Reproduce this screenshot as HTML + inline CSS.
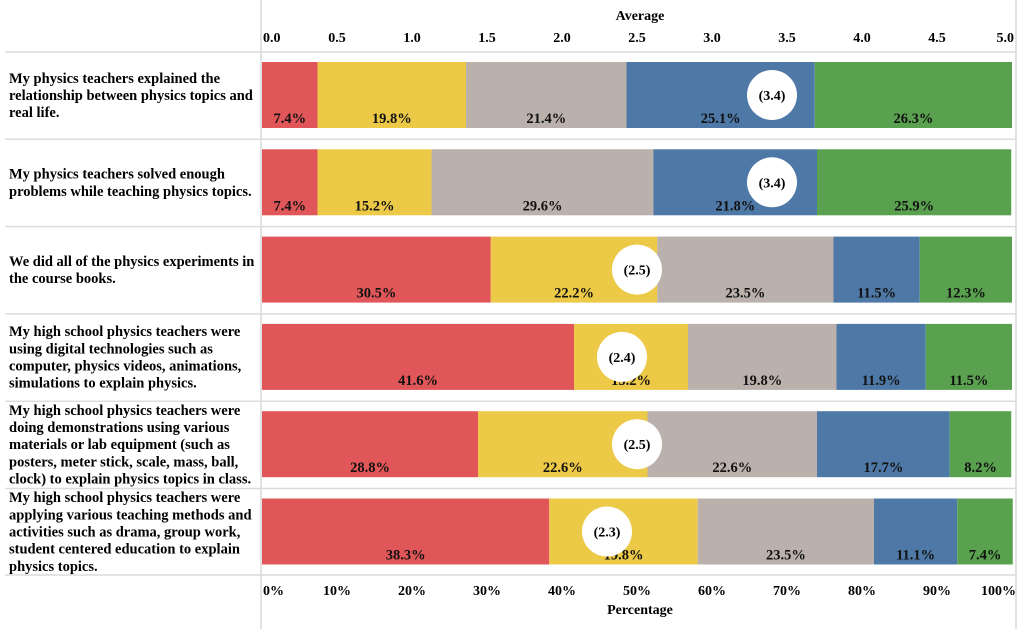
<!DOCTYPE html>
<html><head><meta charset="utf-8"><style>
body{margin:0;width:1024px;height:629px;background:#fff;overflow:hidden;font-family:"Liberation Serif",serif;}
svg text{font-family:"Liberation Serif",serif;font-weight:bold;}
</style></head><body>
<svg id="chart" width="1024" height="629" xmlns="http://www.w3.org/2000/svg"></svg>
<script>
const questions=[
["My physics teachers explained the","relationship between physics topics and","real life."],
["My physics teachers solved enough","problems while teaching physics topics."],
["We did all of the physics experiments in","the course books."],
["My high school physics teachers were","using digital technologies such as","computer, physics videos, animations,","simulations to explain physics."],
["My high school physics teachers were","doing demonstrations using various","materials or lab equipment (such as","posters, meter stick, scale, mass, ball,","clock) to explain physics topics in class."],
["My high school physics teachers were","applying various teaching methods and","activities such as drama, group work,","student centered education to explain","physics topics."]
];
const seg1=[7.4,7.4,30.5,41.6,28.8,38.3];
const seg2=[19.8,15.2,22.2,15.2,22.6,19.8];
const seg3=[21.4,29.6,23.5,19.8,22.6,23.5];
const seg4=[25.1,21.8,11.5,11.9,17.7,11.1];
const seg5=[26.3,25.9,12.3,11.5,8.2,7.4];
const averages=[3.4,3.4,2.5,2.4,2.5,2.3];
const avgTicks=["0.0","0.5","1.0","1.5","2.0","2.5","3.0","3.5","4.0","4.5","5.0"];
const pctTicks=["0%","10%","20%","30%","40%","50%","60%","70%","80%","90%","100%"];
const colors=["#e15759","#edc948","#bab0ac","#4e79a7","#59a14f"];
const NS="http://www.w3.org/2000/svg";
const svg=document.getElementById('chart');
const X0=262,X1=1012;
const xPct=v=>X0+(X1-X0)*v/100;
const xAvg=v=>X0+(X1-X0)*v/5;
const rowTop=i=>52+i*87.3;
function mk(tag,attrs,parent){const e=document.createElementNS(NS,tag);for(const k in attrs)e.setAttribute(k,attrs[k]);(parent||svg).appendChild(e);return e;}
let l=mk('line',{x1:261,y1:0,x2:261,y2:629,stroke:'#d8d8d8','stroke-width':1.5});


l=mk('line',{x1:1016,y1:0,x2:1016,y2:629,stroke:'#d8d8d8','stroke-width':1.5});


for(let i=0;i<=6;i++){
  const y=i==6?575:rowTop(i);
  const g=mk('line',{x1:5,y1:y,x2:1016,y2:y,stroke:'#dcdcdc','stroke-width':1.5});
  
  
}
let t=mk('text',{x:640,y:20,'font-size':14,'text-anchor':'middle'});t.textContent='Average';


avgTicks.forEach((s,i)=>{
  let x=xAvg(i*0.5);let anchor='middle';
  if(i==0){x+=1;anchor='start';} if(i==10){x+=2;anchor='end';}
  const e=mk('text',{x:x,y:42,'font-size':14,'text-anchor':anchor});e.textContent=s;
  
  
});
pctTicks.forEach((s,i)=>{
  let x=xPct(i*10);let anchor='middle';
  if(i==0){x+=1;anchor='start';} if(i==10){x+=4;anchor='end';}
  const e=mk('text',{x:x,y:595,'font-size':14,'text-anchor':anchor});e.textContent=s;
  
  
});
t=mk('text',{x:640,y:614,'font-size':14,'text-anchor':'middle'});t.textContent='Percentage';


const segs=[seg1,seg2,seg3,seg4,seg5];
questions.forEach((q,i)=>{
  const top=rowTop(i)+10,h=66;
  const n=q.length;const lh=17.2;const startY=top+h/2-(n-1)*lh/2+5;
  q.forEach((line,j)=>{
    const e=mk('text',{x:9,y:startY+j*lh,'font-size':14.5});e.textContent=line;
    
    
  });
  let cum=0;
  segs.forEach((arr,k)=>{
    const v=arr[i];const x=xPct(cum),w=xPct(cum+v)-x;
    const r=mk('rect',{x:x,y:top,width:w,height:h,fill:colors[k]});
    
    
    const e=mk('text',{x:x+w/2,y:top+h-5,'font-size':14.5,'text-anchor':'middle',fill:'#111'});e.textContent=v.toFixed(1)+'%';
    
    
    cum+=v;
  });
  const cx=xAvg(averages[i]),cy=top+h/2;
  const c=mk('circle',{cx:cx,cy:cy,r:25,fill:'#fff'});
  
  
  const e=mk('text',{x:cx,y:cy+5,'font-size':14,'text-anchor':'middle'});e.textContent='('+averages[i].toFixed(1)+')';
  
  
});
</script>
</body></html>
